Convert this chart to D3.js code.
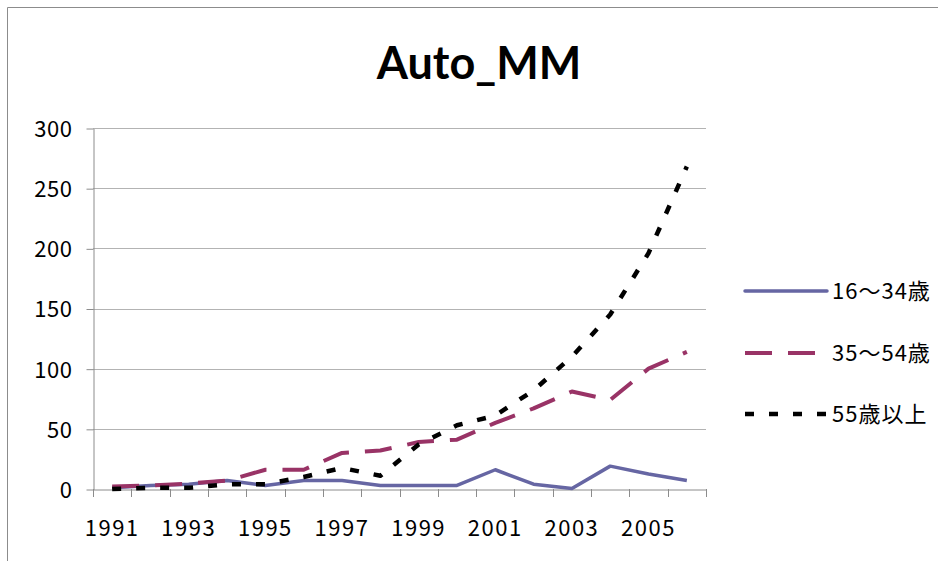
<!DOCTYPE html>
<html><head><meta charset="utf-8">
<script src="https://cdn.jsdelivr.net/npm/d3@7"></script>
<style>body{margin:0;background:#fff}svg{display:block}</style>
</head><body>
<script>
const years = ["1991","1992","1993","1994","1995","1996","1997","1998","1999","2000","2001","2002","2003","2004","2005","2006"];
const seriesNames = ["16～34歳","35～54歳","55歳以上"];
const s16to34 = [1,3,4,7,3,7,7,3,3,3,16,4,0.5,19,12.5,7];
const s35to54 = [2,3,4.5,7,16,16,30,32,39,41,55,67,81,74,100,114];
const s55plus = [0,1,1,4,4,10,17.5,11,37,53,61,82,110,145,196,268];
const yTicks = [0,50,100,150,200,250,300];
const xLabels = ["1991","1993","1995","1997","1999","2001","2003","2005"];

const W=938,H=561;
const svg=d3.select("body").append("svg").attr("width",W).attr("height",H);
const font="'Noto Sans CJK JP','Noto Sans',sans-serif";

// outer chart border
svg.append("path").attr("d","M7.5,561 V7.5 H938").attr("fill","none").attr("stroke","#8c8c8c").attr("stroke-width",1);

svg.append("text").attr("x",479).attr("y",79).attr("text-anchor","middle")
  .attr("font-family","Lato,'Open Sans',sans-serif").attr("font-weight","bold").attr("font-size",45)
  .attr("fill","#000").text("Auto_MM");

const x=d3.scaleBand().domain(years).range([93,706]).padding(0);
const y=d3.scaleLinear().domain([0,300]).range([489,128]);
const cx=d=>x(d)+x.bandwidth()/2;

// gridlines
svg.append("g").selectAll("line").data(yTicks.filter(t=>t>0)).join("line")
  .attr("x1",93).attr("x2",706).attr("y1",d=>Math.round(y(d))+0.5).attr("y2",d=>Math.round(y(d))+0.5)
  .attr("stroke","#b3b3b3").attr("stroke-width",1.2);

// y axis
const ya=svg.append("g").attr("transform","translate(93.5,0.5)")
  .call(d3.axisLeft(y).tickValues(yTicks).tickSize(7).tickPadding(14).tickSizeOuter(0));
ya.select(".domain").attr("stroke","#8c8c8c");
ya.selectAll(".tick line").attr("stroke","#8c8c8c");
ya.selectAll("text").attr("font-family",font).attr("font-size",22).attr("fill","#000").attr("dy","0.36em")
  .attr("letter-spacing","0.5px");

// x axis
const xa=svg.append("g").attr("transform","translate(0,489.5)")
  .call(d3.axisBottom(x).tickSize(0).tickFormat(d=>xLabels.includes(d)?d:""));
xa.select(".domain").attr("stroke","#8c8c8c");
xa.selectAll("text").attr("font-family",font).attr("font-size",22).attr("fill","#000")
  .attr("y",46).attr("dy",0).attr("letter-spacing","1.5px");
// boundary tick marks
const bounds=years.map(d=>x(d)).concat([x(years[years.length-1])+x.bandwidth()]);
svg.append("g").selectAll("line").data(bounds).join("line")
  .attr("x1",d=>Math.round(d)+0.5).attr("x2",d=>Math.round(d)+0.5).attr("y1",489).attr("y2",497)
  .attr("stroke","#8c8c8c");

const series=[
 {name:seriesNames[0],vals:s16to34,color:"#6666a3",dash:null,w:3.5},
 {name:seriesNames[1],vals:s35to54,color:"#993366",dash:"27,16",w:4},
 {name:seriesNames[2],vals:s55plus,color:"#000000",dash:"9,15",w:4.5}
];
const line=d3.line().x((d,i)=>cx(years[i])).y(d=>y(d));
series.forEach(s=>{
  svg.append("path").datum(s.vals).attr("d",line).attr("fill","none")
    .attr("stroke",s.color).attr("stroke-width",s.w).attr("stroke-linejoin","round")
    .attr("stroke-dasharray",s.dash);
});

// legend
const ly=[291,353,414];
series.forEach((s,i)=>{
  svg.append("line").attr("x1",745).attr("x2",827).attr("y1",ly[i]).attr("y2",ly[i])
    .attr("stroke",s.color).attr("stroke-width",s.w).attr("stroke-dasharray",s.dash)
    .attr("stroke-linecap",s.dash?"butt":"round");
  svg.append("text").attr("x",832).attr("y",ly[i]+8).attr("font-family",font).attr("font-size",22)
    .attr("fill","#000").attr("letter-spacing","1px").text(s.name);
});
</script>
</body></html>
